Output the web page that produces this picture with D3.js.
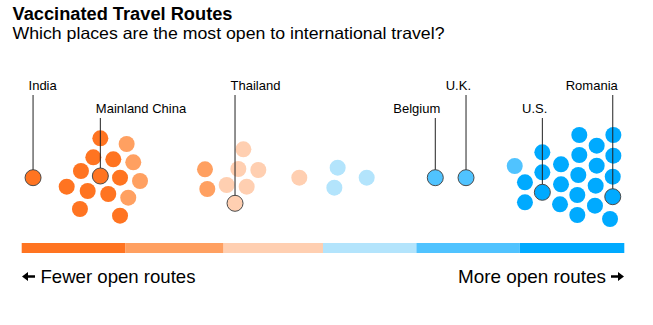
<!DOCTYPE html>
<html>
<head>
<meta charset="utf-8">
<script src="https://cdn.jsdelivr.net/npm/d3@7"></script>
<style>
  html, body { margin: 0; padding: 0; background: #fff; }
  svg { display: block; font-family: "Liberation Sans", Arial, Helvetica, sans-serif; }
</style>
</head>
<body>
<svg id="chart" width="653" height="325"></svg>
<script>
// Openness score per place (0 = fewest open routes, 60 = most)
const scores = [
  1.13, 7.83, 7.13, 9.12, 5.90, 7.83, 9.79, 4.48, 6.57, 8.62, 5.80, 9.79,
  10.45, 11.11, 11.78, 10.61, 18.25, 18.48,
  22.07, 21.57, 23.56, 20.41, 22.40, 21.24, 27.64,
  31.46, 31.13, 34.35,
  41.18, 44.24, 49.09,
  50.11, 50.11, 51.84, 51.84, 51.84, 53.70, 53.70, 53.60,
  55.52, 55.52, 55.42, 55.32, 55.32,
  57.25, 57.25, 57.15, 57.08,
  58.91, 58.91, 58.85, 58.85, 58.58
];
// Vertical spread of each point in the beeswarm (swarm units)
const swarm = [
  0, 3.94, 2.04, 1.84, 0.67, 0.17, 0, -0.9, -1.33, -1.63, -3.13, -3.8,
  3.37, 1.54, -0.33, -2.0, 0.84, -1.13,
  2.84, 0.87, 0.77, -0.73, -0.9, -2.56, 0,
  1.0, -1.0, 0,
  0, 0, 1.17,
  -0.46, -2.46, 2.54, 0.54, -1.46, 1.34, -0.66, -2.66,
  4.27, 2.27, 0.27, -1.73, -3.73,
  3.2, 1.2, -0.8, -2.8,
  4.27, 2.2, 0.1, -1.9, -4.13
];
// Named places: index into scores, label tier, label side
const labelNames = ["India", "Mainland China", "Thailand", "Belgium", "U.K.", "U.S.", "Romania"];
const labelIndex = [0, 5, 23, 28, 29, 35, 51];
const labelTier  = [0, 1, 0, 1, 0, 1, 0];
const labelSide  = ["start", "start", "start", "end", "end", "end", "end"];

// Colour bands
const bandThresholds = [10.3, 20.1, 30, 39.3, 49.6];
const bandColors = ["#ff7421", "#ffa061", "#ffcfb1", "#b3e4fc", "#50c3ff", "#00aaff"];
const scoreDomain = [0, 60];

const svg = d3.select("#chart");

const x = d3.scaleLinear().domain(scoreDomain).range([21.7, 624.3]);
const y = d3.scaleLinear().domain([-5, 5]).range([227.7, 127.7]);
const color = d3.scaleThreshold().domain(bandThresholds).range(bandColors);
const r = 8;

// Title block
svg.append("text")
  .attr("x", 12.5).attr("y", 20)
  .attr("font-size", 17.5).attr("font-weight", "bold").attr("fill", "#000")
  .attr("textLength", 220).attr("lengthAdjust", "spacingAndGlyphs")
  .text("Vaccinated Travel Routes");
svg.append("text")
  .attr("x", 12.5).attr("y", 39)
  .attr("font-size", 16.5).attr("fill", "#000")
  .attr("textLength", 432).attr("lengthAdjust", "spacingAndGlyphs")
  .text("Which places are the most open to international travel?");

// Dots
const points = scores.map((s, i) => ({ score: s, lane: swarm[i], i }));
const highlighted = new Set(labelIndex);

svg.append("g")
  .selectAll("circle")
  .data(points)
  .join("circle")
  .attr("cx", d => x(d.score))
  .attr("cy", d => y(d.lane))
  .attr("r", r)
  .attr("fill", d => color(d.score))
  .attr("stroke", d => highlighted.has(d.i) ? "#4a4a4a" : "none")
  .attr("stroke-width", 1);

// Leader lines and labels
const tierBaseline = [90, 113];
const labels = labelNames.map((name, k) => {
  const p = points[labelIndex[k]];
  return { name, p, tier: labelTier[k], side: labelSide[k] };
});

const lg = svg.append("g");
lg.selectAll("line")
  .data(labels)
  .join("line")
  .attr("x1", d => x(d.p.score)).attr("x2", d => x(d.p.score))
  .attr("y1", d => tierBaseline[d.tier] + 5)
  .attr("y2", d => y(d.p.lane) - r)
  .attr("stroke", "#222").attr("stroke-width", 1);

lg.selectAll("text")
  .data(labels)
  .join("text")
  .attr("x", d => x(d.p.score) + (d.side === "start" ? -4.5 : 5))
  .attr("y", d => tierBaseline[d.tier])
  .attr("text-anchor", d => d.side)
  .attr("font-size", 13).attr("fill", "#000")
  .text(d => d.name);

// Colour legend bar
const bandEdges = [scoreDomain[0], ...bandThresholds, scoreDomain[1]];
svg.append("g")
  .selectAll("rect")
  .data(bandColors)
  .join("rect")
  .attr("x", (c, i) => x(bandEdges[i]))
  .attr("width", (c, i) => x(bandEdges[i + 1]) - x(bandEdges[i]))
  .attr("y", 243).attr("height", 10)
  .attr("fill", c => c);

// Direction captions with solid arrows
const captionY = 283;
function arrow(g, tipX, dir) {
  // dir = -1 points left, +1 points right
  const cy = captionY - 6.5;
  const len = 13, head = 6, half = 4.5, shaft = 1.3;
  const tail = tipX - dir * len;
  const neck = tipX - dir * head;
  const p = d3.path();
  p.moveTo(tipX, cy);
  p.lineTo(neck, cy - half);
  p.lineTo(neck, cy - shaft);
  p.lineTo(tail, cy - shaft);
  p.lineTo(tail, cy + shaft);
  p.lineTo(neck, cy + shaft);
  p.lineTo(neck, cy + half);
  p.closePath();
  g.append("path").attr("d", p.toString()).attr("fill", "#000");
}
const cap = svg.append("g");
arrow(cap, 22, -1);
cap.append("text")
  .attr("x", 40.5).attr("y", captionY)
  .attr("font-size", 18.5).attr("fill", "#000")
  .attr("textLength", 155).attr("lengthAdjust", "spacingAndGlyphs")
  .text("Fewer open routes");
cap.append("text")
  .attr("x", 606).attr("y", captionY)
  .attr("text-anchor", "end")
  .attr("font-size", 18.5).attr("fill", "#000")
  .attr("textLength", 148).attr("lengthAdjust", "spacingAndGlyphs")
  .text("More open routes");
arrow(cap, 624, 1);
</script>
</body>
</html>
